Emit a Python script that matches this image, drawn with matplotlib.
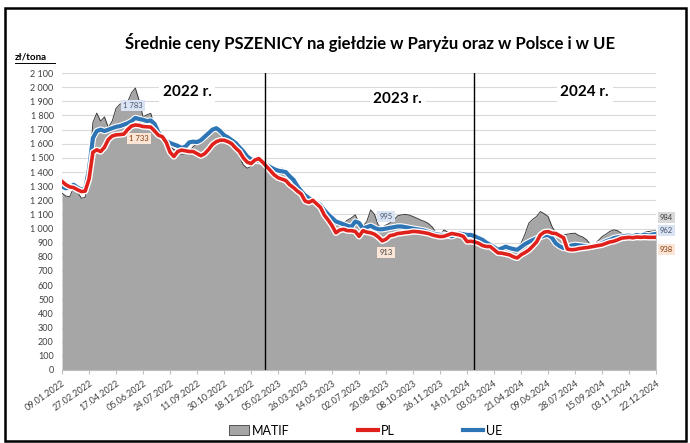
"""Średnie ceny pszenicy: MATIF vs PL vs UE (tygodniowo 2022-2024)."""

import matplotlib
matplotlib.use("Agg")
import matplotlib.pyplot as plt
import matplotlib.patheffects as pe
from matplotlib.patches import Patch, Rectangle
from matplotlib.lines import Line2D
from matplotlib.ticker import FuncFormatter, MultipleLocator

plt.rcParams["font.family"] = ["Lato", "DejaVu Sans"]

# weekly values, zł/tona, 09.01.2022 .. 22.12.2024
matif = [
    1250, 1230, 1225, 1290, 1260, 1215, 1220, 1380, 1750, 1817,
    1760, 1790, 1715, 1760, 1850, 1880, 1890, 1895, 1960, 1994,
    1905, 1790, 1805, 1815, 1720, 1650, 1635, 1600, 1580, 1560,
    1545, 1525, 1530, 1545, 1580, 1600, 1625, 1660, 1690, 1710,
    1700, 1660, 1630, 1620, 1600, 1560, 1510, 1450, 1427, 1440,
    1465, 1480, 1470, 1445, 1420, 1410, 1420, 1427, 1380, 1345,
    1310, 1280, 1240, 1215, 1200, 1190, 1170, 1150, 1110, 1075,
    1045, 1030, 1030, 1040, 1060, 1075, 1097, 1040, 1015, 1050,
    1132, 1100, 1020, 1010, 1025, 1040, 1060, 1090, 1097, 1100,
    1095, 1085, 1073, 1060, 1050, 1035, 1010, 970, 955, 990,
    975, 965, 975, 960, 955, 945, 940, 930, 915, 895,
    880, 870, 855, 845, 850, 860, 855, 845, 860, 896,
    960, 1038, 1065, 1085, 1120, 1105, 1085, 1015, 970, 940,
    955, 960, 965, 967, 950, 940, 920, 885, 890, 915,
    943, 960, 980, 991, 985, 967, 960, 965, 955, 965,
    958, 975, 979, 982, 984,
]
pl = [
    1333, 1310, 1295, 1290, 1275, 1262, 1265, 1350, 1540, 1557,
    1545, 1575, 1630, 1655, 1663, 1665, 1668, 1700, 1725, 1733,
    1730, 1722, 1720, 1718, 1690, 1660, 1650, 1610, 1540, 1510,
    1545, 1555, 1550, 1545, 1545, 1530, 1515, 1530, 1560, 1595,
    1615, 1625, 1625, 1615, 1600, 1570, 1545, 1500, 1470, 1460,
    1485, 1495, 1470, 1440, 1410, 1380, 1360, 1350, 1340, 1310,
    1290, 1265, 1245, 1195, 1185, 1200, 1175, 1150, 1095, 1060,
    1020, 970, 990, 995, 985, 985, 980, 945, 985, 975,
    970, 960, 940, 913, 925, 950, 955, 965, 968, 972,
    975, 980, 978, 975, 970, 965, 955, 948, 943, 945,
    955, 965, 960, 955, 945, 908, 910, 905, 896, 880,
    873, 873, 850, 828, 826, 820, 814, 800, 792, 815,
    830, 848, 875, 905, 955, 975, 979, 968, 965, 950,
    935, 855, 850, 852, 858, 862, 865, 870, 875, 880,
    885, 895, 905, 910, 920, 932, 935, 938, 935, 940,
    938, 940, 938, 938, 938,
]
ue = [
    1297, 1285, 1290, 1310, 1290, 1275, 1280, 1420, 1640, 1690,
    1700, 1690, 1700, 1710, 1720, 1725, 1735, 1745, 1760, 1783,
    1775, 1770, 1760, 1765, 1740, 1680, 1645, 1620, 1605, 1595,
    1585, 1570, 1580, 1610, 1615, 1612, 1625, 1650, 1675, 1700,
    1710, 1690, 1660, 1645, 1625, 1605, 1575, 1545, 1510, 1490,
    1480, 1478, 1472, 1450, 1435, 1420, 1410, 1405, 1400, 1370,
    1345, 1300, 1265, 1235, 1215, 1200, 1185, 1165, 1130, 1100,
    1075, 1050, 1040, 1030, 1020, 1012, 1050, 1040, 1000, 1010,
    1020, 1005, 995, 995, 1000, 1005, 1010, 1015, 1015, 1010,
    1005, 1000, 995, 990, 985, 975, 965, 960, 955, 955,
    950, 945, 955, 965, 960, 955, 955, 945, 932, 920,
    900, 885, 868, 850, 860, 872, 862, 855, 850, 870,
    890, 905, 918, 930, 940, 950, 955, 935, 895, 875,
    862, 870, 880, 885, 882, 878, 875, 872, 878, 888,
    896, 910, 920, 932, 938, 943, 948, 950, 945, 955,
    948, 958, 950, 958, 962,
]

tick_labels = [
    "09.01.2022", "27.02.2022", "17.04.2022", "05.06.2022", "24.07.2022",
    "11.09.2022", "30.10.2022", "18.12.2022", "05.02.2023", "26.03.2023",
    "14.05.2023", "02.07.2023", "20.08.2023", "08.10.2023", "26.11.2023",
    "14.01.2024", "03.03.2024", "21.04.2024", "09.06.2024", "28.07.2024",
    "15.09.2024", "03.11.2024", "22.12.2024",
]
years = ["2022 r.", "2023 r.", "2024 r."]
year_breaks = [52.6, 106.8]
mid_week = 83

C_MATIF = "#a6a6a6"
C_PL = "#e0201b"
C_UE = "#2e75b6"

x = list(range(len(matif)))

fig = plt.figure(figsize=(6.9, 4.43), dpi=100)
fig.patches.append(Rectangle((0.007, 0.005), 0.987, 0.978, transform=fig.transFigure,
                             fill=False, edgecolor="black", linewidth=1.8))
ax = fig.add_axes([0.0899, 0.165, 0.861, 0.67])

ax.fill_between(x, matif, color=C_MATIF, linewidth=0, zorder=2)
ax.plot(x, matif, color="#3c3c3c", linewidth=0.7, zorder=3)
glow = [pe.Stroke(linewidth=4.6, foreground="white"), pe.Normal()]
ax.plot(x, ue, color=C_UE, linewidth=3.0, zorder=4, path_effects=glow)
ax.plot(x, pl, color=C_PL, linewidth=2.6, zorder=5, path_effects=glow)

for xb in year_breaks:
    ax.axvline(xb, color="black", linewidth=1.0, zorder=6)

ax.set_xlim(0, len(matif) - 1)
ax.set_ylim(0, 2100)
ax.yaxis.set_major_locator(MultipleLocator(100))
ax.yaxis.set_major_formatter(FuncFormatter(lambda v, p: f"{int(v):,}".replace(",", " ")))
ax.yaxis.grid(True, color="#d9d9d9", linewidth=0.8, zorder=0)
ax.set_axisbelow(True)
ax.set_xticks(range(0, len(matif), 7))
ax.set_xticklabels(tick_labels, rotation=35, ha="right", rotation_mode="anchor")
ax.tick_params(axis="x", labelsize=6.5, colors="#404040", length=3, color="#bfbfbf")
ax.tick_params(axis="y", labelsize=6.5, colors="#404040", length=0, pad=6)
for s in ("top", "right", "left"):
    ax.spines[s].set_visible(False)
ax.spines["bottom"].set_color("#bfbfbf")

# year captions
for xt, yt, label in zip([32.4, 87, 135.5], [1965, 1920, 1965], years):
    ax.text(xt, yt, label, fontsize=11, fontweight="bold", ha="center", va="center",
            zorder=7, bbox=dict(facecolor="white", edgecolor="none", pad=2.5))

# value labels
box_ue = dict(facecolor="#dae3f3", edgecolor="none", pad=1.5)
box_pl = dict(facecolor="#fbe5d6", edgecolor="none", pad=1.5)
box_mt = dict(facecolor="#d9d9d9", edgecolor="none", pad=1.5)


def fmt(v):
    return f"{v:,}".replace(",", " ")


lab_kw = dict(fontsize=5.5, ha="center", va="center", zorder=8, clip_on=False)
ax.text(18.4, 1868, fmt(max(ue[:52])), color="#44546a", bbox=box_ue, **lab_kw)
ax.text(20.0, 1635, fmt(max(pl[:52])), color="#843c0c", bbox=box_pl, **lab_kw)
ax.text(mid_week + 1, 1083, fmt(ue[mid_week]), color="#44546a", bbox=box_ue, **lab_kw)
ax.text(mid_week + 1, 828, fmt(pl[mid_week]), color="#404040", bbox=box_pl, **lab_kw)
end = len(matif) - 1
ax.text(end + 2.6, 1076, fmt(matif[-1]), color="#404040", bbox=box_mt, **lab_kw)
ax.text(end + 2.6, 984, fmt(ue[-1]), color="#44546a", bbox=box_ue, **lab_kw)
ax.text(end + 2.6, 849, fmt(pl[-1]), color="#843c0c", bbox=box_pl, **lab_kw)

fig.text(0.536, 0.905, "Średnie ceny PSZENICY na giełdzie w Paryżu oraz w Polsce i w UE",
         ha="center", va="center", fontsize=12, fontweight="bold")
fig.text(0.022, 0.872, "zł/tona", ha="left", va="center", fontsize=7, fontweight="bold")
fig.lines.append(Line2D([0.022, 0.079], [0.857, 0.857], transform=fig.transFigure,
                        color="black", linewidth=0.7))

handles = [
    Patch(facecolor=C_MATIF, edgecolor="#3c3c3c", linewidth=0.6),
    Line2D([], [], color=C_PL, linewidth=3),
    Line2D([], [], color=C_UE, linewidth=3),
]
fig.legend(handles, ["MATIF", "PL", "UE"], loc="center", bbox_to_anchor=(0.53, 0.028),
           ncol=3, frameon=False, fontsize=9, handlelength=1.6, handletextpad=0.2,
           columnspacing=5.5, handleheight=0.9)

fig.savefig("out.png", dpi=100)
